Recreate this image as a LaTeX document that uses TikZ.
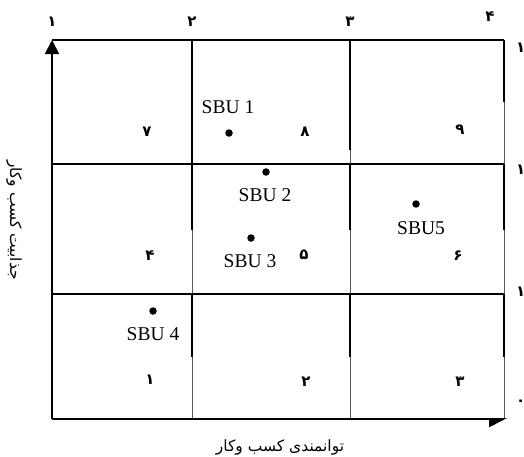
\documentclass[tikz,border=0pt]{standalone}
\usepackage{fontspec}
\setmainfont{Liberation Serif}
\newfontfamily\arabicfont[Script=Arabic]{DejaVu Sans}
\TeXXeTstate=1
\usetikzlibrary{arrows.meta}
\begin{document}
\begin{tikzpicture}[x=1pt,y=-1pt,
  thickline/.style={line width=1.8pt},
  thinline/.style={line width=0.7pt, black!65},
  sbudot/.style={circle, fill=black, inner sep=0pt, minimum size=7.5pt},
  sbu/.style={font=\fontsize{19.5}{21}\selectfont, inner sep=0pt},
  cellnum/.style={font=\arabicfont\bfseries\fontsize{15}{16}\selectfont, inner sep=0pt},
  ticknum/.style={font=\arabicfont\bfseries\fontsize{15}{16}\selectfont, inner sep=0pt},
  axislabel/.style={font=\arabicfont\fontsize{15.5}{17}\selectfont, inner sep=0pt}]
\useasboundingbox (0,0) rectangle (524,456);
% coordinates of grid
\coordinate (tl) at (52,40);
\coordinate (bl) at (52,419);
\coordinate (br) at (507,419);
\coordinate (tr) at (504,40);
% thin full verticals
\draw[thinline] (192,40) -- (192,419);
\draw[thinline] (350,40) -- (350,419);
\draw[thinline] (504,40) -- (504,419);
% thick segments
\draw[thickline] (192,40) -- (192,230);
\draw[thickline] (192,294) -- (192,357);
\draw[thickline] (350,40) -- (350,150);
\draw[thickline] (350,164) -- (350,230);
\draw[thickline] (350,294) -- (350,357);
\draw[thickline] (504,40) -- (504,102);
\draw[thickline] (504,164) -- (504,230);
\draw[thickline] (504,294) -- (504,357);
% horizontals
\draw[thickline] (tl) -- (tr);
\draw[thickline] (52,164) -- (504,164);
\draw[thickline] (52,294) -- (504,294);
% axes with arrows
\draw[thickline, -{Triangle[width=14pt,length=14pt]}] (bl) -- (tl);
\draw[thickline, -{Triangle[width=16pt,length=16pt,right]}] (bl) -- (br);
% top tick labels
\node[ticknum] (t1) at (52,22) {۱};
\node[ticknum] (t2) at (192,22) {۲};
\node[ticknum] (t3) at (350,22) {۳};
\node[ticknum] (t4) at (490,17) {۴};
% right tick labels (cut off at the edge, as in the reference)
\node[ticknum, anchor=west] (r1) at (516,48) {۱};
\node[ticknum, anchor=west] (r2) at (516,170) {۱};
\node[ticknum, anchor=west] (r3) at (516,292) {۱};
\node[ticknum, anchor=west] (r4) at (516,403) {۰};
% cell numbers
\node[cellnum] (c7) at (147,132) {۷};
\node[cellnum] (c8) at (305,132) {۸};
\node[cellnum] (c9) at (460,130) {۹};
\node[cellnum] (c4) at (150,256) {۴};
\node[cellnum] (c5) at (304,255) {۵};
\node[cellnum] (c6) at (458,256) {۶};
\node[cellnum] (c1) at (150,380) {۱};
\node[cellnum] (c2) at (306,382) {۲};
\node[cellnum] (c3) at (460,382) {۳};
% SBUs
\node[sbudot] (d1) at (229,133) {};
\node[sbu] (s1) at (228,107) {SBU 1};
\node[sbudot] (d2) at (266,172) {};
\node[sbu] (s2) at (265,195) {SBU 2};
\node[sbudot] (d3) at (251,238) {};
\node[sbu] (s3) at (250,261) {SBU 3};
\node[sbudot] (d4) at (153,311) {};
\node[sbu] (s4) at (153,334) {SBU 4};
\node[sbudot] (d5) at (416,204) {};
\node[sbu] (s5) at (421,228) {SBU5};
% axis labels
\node[axislabel, rotate=-90] (ylab) at (14,220) {\beginR جذابیت کسب وکار\endR};
\node[axislabel] (xlab) at (280,447) {\beginR توانمندی کسب وکار\endR};
\end{tikzpicture}
\end{document}
